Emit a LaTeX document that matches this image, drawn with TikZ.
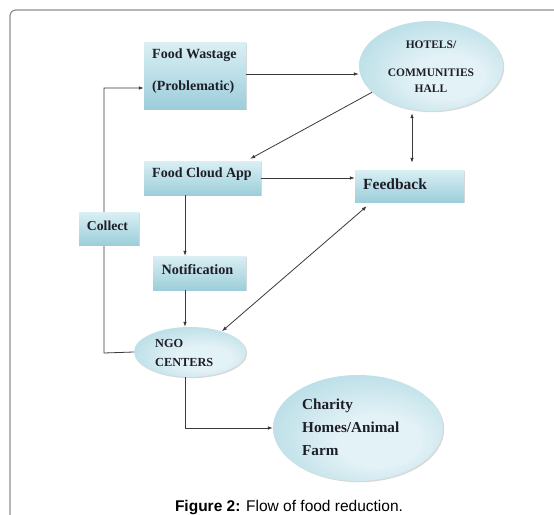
\documentclass[tikz,border=0pt]{standalone}
\usepackage{fontspec}
\setmainfont{Liberation Serif}
\newfontfamily\capfont{Liberation Sans}
\usetikzlibrary{shapes.geometric,arrows.meta,shadows,calc}
\definecolor{bxlight}{HTML}{DAEFF4}
\definecolor{bxdark}{HTML}{9CCEDA}
\definecolor{ellight}{HTML}{E3F2F6}
\definecolor{eldark}{HTML}{A6D4DF}
\definecolor{lncol}{HTML}{3A3A3A}
\definecolor{frm}{HTML}{8E8E8E}
\definecolor{txtc}{HTML}{1E1E28}
\pgfdeclareradialshading{elshade}{\pgfpoint{8bp}{-8bp}}{color(0bp)=(ellight); color(12bp)=(ellight); color(40bp)=(eldark); color(50bp)=(eldark)}
\begin{document}
\begin{tikzpicture}[x=1pt,y=-1pt,
  bx/.style={rectangle, inner sep=0pt, top color=bxlight, bottom color=bxdark,
    drop shadow={shadow xshift=1.2pt,shadow yshift=-1.2pt,opacity=0.3}},
  el/.style={ellipse, inner sep=0pt, shading=elshade,
    drop shadow={shadow xshift=1.2pt,shadow yshift=-1.2pt,opacity=0.3}},
  tx/.style={text=txtc, inner sep=0pt, align=left},
  tipa/.tip={Latex[length=5pt,width=3.6pt]},
  arr/.style={draw=lncol, line width=0.8pt, -tipa},
  dbl/.style={draw=lncol, line width=0.8pt, tipa-tipa},
  ln/.style={draw=lncol, line width=0.8pt}]
\useasboundingbox (0,0) rectangle (554,514);
\fill[white] (0,0) rectangle (554,514);
\draw[frm, line width=1.2pt, rounded corners=6pt] (10,520) -- (10,10) -- (560,10);

% helper coordinates
\coordinate (cl) at (104,353);
\coordinate (nx) at (185,0);
\coordinate (hx) at (412,0);

% collect loop line (under the boxes)
\node[el, minimum width=112pt, minimum height=50pt] (ngo) at (190,352) {};
\node[bx, minimum width=102pt, minimum height=67pt] (fw) at (195,75.5) {};
\coordinate (fwin) at ([yshift=-12.5pt]fw.west);
\draw[arr] (ngo.west) -- (cl) |- (fwin);

\node[bx, minimum width=60pt, minimum height=33pt] (collect) at (109,228.5) {};
\node[bx, minimum width=117pt, minimum height=34pt] (fca) at (202.5,178) {};
\node[bx, minimum width=109pt, minimum height=32pt] (fb) at (409.5,186) {};
\node[bx, minimum width=93pt, minimum height=34pt] (notif) at (199.5,273) {};
\node[el, minimum width=144pt, minimum height=90pt] (hotels) at (431,66) {};
\node[el, minimum width=170pt, minimum height=106pt] (charity) at (358,428) {};

% texts
\node[tx, anchor=west, font=\fontsize{14}{32}\selectfont\bfseries] (fwt) at (152,71) {Food Wastage\\(Problematic)};
\node[tx, anchor=west, font=\fontsize{14}{17}\selectfont\bfseries] (fcat) at (152,174) {Food Cloud App};
\node[tx, anchor=west, font=\fontsize{15.5}{18}\selectfont\bfseries] (fbt) at (363,184) {Feedback};
\node[tx, font=\fontsize{13.7}{16}\selectfont\bfseries] (collectt) at (107.5,226) {Collect};
\node[tx, font=\fontsize{14.2}{17}\selectfont\bfseries] (notift) at (197.5,270) {Notification};
\node[tx, align=center, font=\fontsize{11.5}{16}\selectfont\bfseries] (hotelst) at (431,67) {HOTELS/\\[12pt]COMMUNITIES\\HALL};
\node[tx, anchor=west, font=\fontsize{12.3}{19}\selectfont\bfseries] (ngot) at (155,352.5) {NGO\\CENTERS};
\node[tx, anchor=west, font=\fontsize{15.2}{23}\selectfont\bfseries] (charityt) at (302,427) {Charity\\Homes/Animal\\Farm};

% connectors
\coordinate (fwout) at ([yshift=1.5pt]fw.east);
\draw[arr] (fwout) -- (fwout -| hotels.west);
\draw[arr] (hotels.204) -- ([xshift=-11pt,yshift=2pt]fca.north east);
\draw[arr] (fca.east) -- (fca.east -| fb.west);
\draw[dbl, shorten <=2pt, shorten >=7pt] (hotels.south -| hx) -- (fb.north -| hx);
\draw[arr] (fca.south -| nx) -- (notif.north -| nx);
\draw[arr] (notif.south -| nx) -- (ngo.north -| nx);
\draw[dbl] ([xshift=12pt,yshift=-4pt]fb.south west) -- (ngo.33);
\draw[arr] (ngo.south -| nx) |- (charity.west);

% caption
\node[inner sep=0pt, anchor=base, font=\capfont\fontsize{15.5}{18}\selectfont] (cap) at (289,511) {\textbf{Figure 2:} Flow of food reduction.};
\end{tikzpicture}
\end{document}
